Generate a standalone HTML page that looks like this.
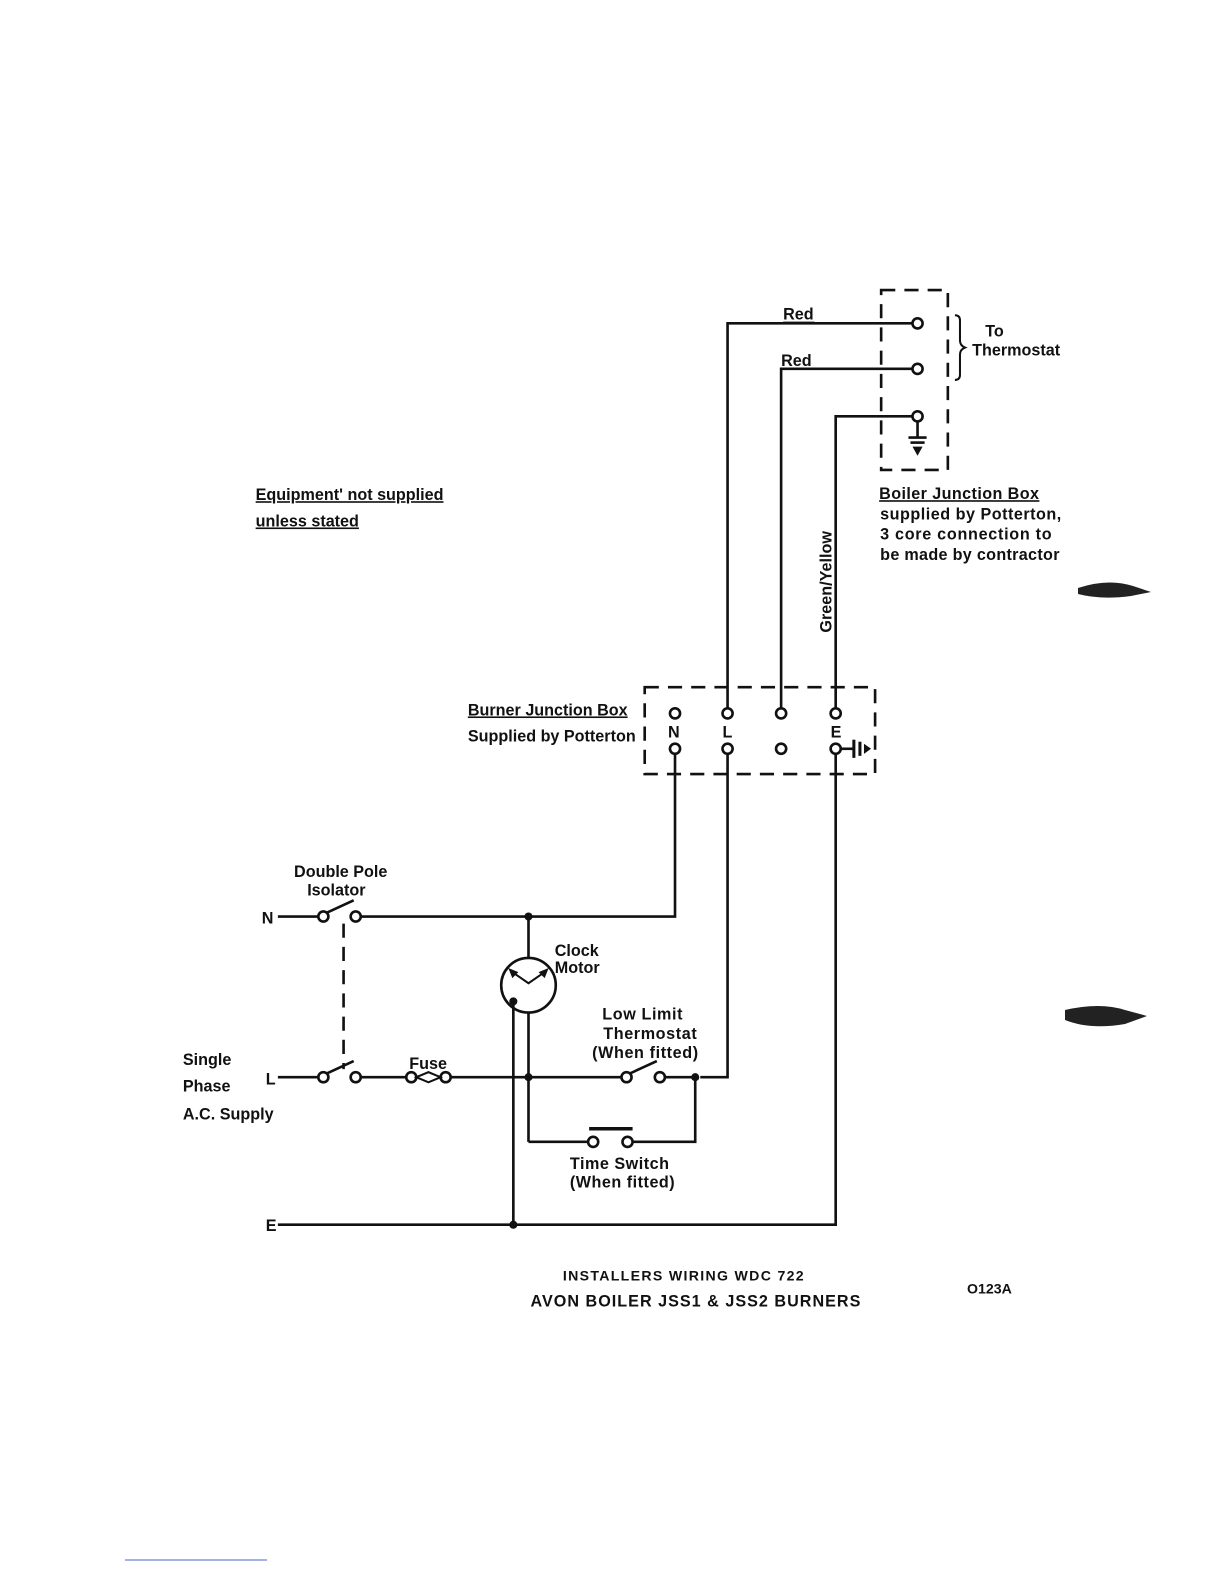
<!DOCTYPE html>
<html><head><meta charset="utf-8"><style>
html,body{margin:0;padding:0;background:#fff;}
svg{display:block;}
text{font-family:"Liberation Sans",sans-serif;font-weight:bold;fill:#111;}
</style></head><body>
<svg width="1224" height="1584" viewBox="0 0 1224 1584" xmlns="http://www.w3.org/2000/svg">
<rect width="1224" height="1584" fill="#fff"/>
<g transform="scale(1.0105)" stroke="#111" stroke-width="2.6" fill="none">
<rect x="872" y="287" width="66" height="178" stroke-dasharray="14,9"/>
<polyline points="903,320 720,320 720,701"/>
<polyline points="903,365 773,365 773,701"/>
<polyline points="903,412 827,412 827,701"/>
<circle cx="908" cy="320" r="5" fill="#fff"/>
<circle cx="908" cy="365" r="5" fill="#fff"/>
<circle cx="908" cy="412" r="5" fill="#fff"/>
<line x1="908" y1="417" x2="908" y2="432"/>
<line x1="899" y1="433" x2="917" y2="433"/>
<line x1="901" y1="438" x2="915" y2="438"/>
<polygon points="903,442 913,442 908,451" fill="#111" stroke="none"/>
<path d="M945,312 q5,0 5,5 v20 q0,5 5,7 q-5,2 -5,7 v20 q0,5 -5,5" stroke-width="2"/>
<rect x="638" y="680" width="228" height="86" stroke-dasharray="14,9"/>
<g fill="#fff">
<circle cx="668" cy="706" r="5"/><circle cx="720" cy="706" r="5"/><circle cx="773" cy="706" r="5"/><circle cx="827" cy="706" r="5"/>
<circle cx="668" cy="741" r="5"/><circle cx="720" cy="741" r="5"/><circle cx="773" cy="741" r="5"/><circle cx="827" cy="741" r="5"/>
</g>
<line x1="832" y1="741" x2="845" y2="741"/>
<line x1="845" y1="732" x2="845" y2="750" stroke-width="3"/>
<line x1="851" y1="734" x2="851" y2="748" stroke-width="3"/>
<polygon points="855,736 862,741 855,746" fill="#111" stroke="none"/>
<polyline points="668,746 668,907 357,907"/>
<line x1="275" y1="907" x2="315" y2="907"/>
<circle cx="320" cy="907" r="5" fill="#fff"/>
<line x1="324" y1="903" x2="350" y2="891"/>
<circle cx="352" cy="907" r="5" fill="#fff"/>
<line x1="340" y1="914" x2="340" y2="1058" stroke-dasharray="14,9"/>
<polyline points="720,746 720,1066 693,1066"/>
<line x1="275" y1="1066" x2="315" y2="1066"/>
<circle cx="320" cy="1066" r="5" fill="#fff"/>
<line x1="324" y1="1062" x2="350" y2="1050"/>
<circle cx="352" cy="1066" r="5" fill="#fff"/>
<line x1="357" y1="1066" x2="402" y2="1066"/>
<circle cx="407" cy="1066" r="5" fill="#fff"/>
<circle cx="441" cy="1066" r="5" fill="#fff"/>
<path d="M412,1066 L424,1061 L436,1066 L424,1071 Z" stroke-width="2"/>
<line x1="446" y1="1066" x2="615" y2="1066"/>
<circle cx="620" cy="1066" r="5" fill="#fff"/>
<line x1="624" y1="1062" x2="650" y2="1050"/>
<circle cx="653" cy="1066" r="5" fill="#fff"/>
<line x1="658" y1="1066" x2="690" y2="1066"/>
<line x1="523" y1="907" x2="523" y2="948"/>
<circle cx="523" cy="975" r="27" fill="#fff"/>
<polyline points="507,962 523,973 539,962" stroke-width="2"/>
<polygon points="503,958 513,962 507,968" fill="#111" stroke="none"/>
<polygon points="543,958 533,962 539,968" fill="#111" stroke="none"/>
<line x1="523" y1="1002" x2="523" y2="1130"/>
<polyline points="508,991 508,1212"/>
<polyline points="523,1130 582,1130"/>
<circle cx="587" cy="1130" r="5" fill="#fff"/>
<circle cx="621" cy="1130" r="5" fill="#fff"/>
<line x1="583" y1="1117" x2="626" y2="1117" stroke-width="3.5"/>
<polyline points="626,1130 688,1130 688,1066"/>
<polyline points="827,746 827,1212 275,1212"/>
<g fill="#111" stroke="none">
<circle cx="523" cy="907" r="4"/><circle cx="523" cy="1066" r="4"/><circle cx="688" cy="1066" r="4"/>
<circle cx="508" cy="991" r="4"/><circle cx="508" cy="1212" r="4"/>
</g>
</g>
<g transform="scale(1.0105)" font-size="16">
<text x="775" y="316">Red</text>
<line x1="775" y1="319" x2="806" y2="319" stroke="#111" stroke-width="1.5"/>
<text x="773" y="362">Red</text>
<text x="975" y="333">To</text>
<text x="962" y="352">Thermostat</text>
<text x="870" y="494" text-decoration="underline" letter-spacing="0.4">Boiler Junction Box</text>
<text x="871" y="514" letter-spacing="0.5">supplied by Potterton,</text>
<text x="871" y="534" letter-spacing="0.7">3 core connection to</text>
<text x="871" y="554" letter-spacing="0.3">be made by contractor</text>
<text transform="translate(823,626) rotate(-90)">Green/Yellow</text>
<text x="253" y="495" text-decoration="underline">Equipment' not supplied</text>
<text x="253" y="521" text-decoration="underline">unless stated</text>
<text x="463" y="708" text-decoration="underline">Burner Junction Box</text>
<text x="463" y="734">Supplied by Potterton</text>
<text x="661" y="730">N</text>
<text x="715" y="730">L</text>
<text x="822" y="730">E</text>
<text x="291" y="868">Double Pole</text>
<text x="304" y="886">Isolator</text>
<text x="259" y="914">N</text>
<text x="263" y="1073">L</text>
<text x="263" y="1218">E</text>
<text x="549" y="946">Clock</text>
<text x="549" y="963">Motor</text>
<text x="596" y="1009" letter-spacing="0.6">Low  Limit</text>
<text x="597" y="1028" letter-spacing="0.6">Thermostat</text>
<text x="586" y="1047" letter-spacing="0.6">(When fitted)</text>
<text x="405" y="1058">Fuse</text>
<text x="181" y="1054">Single</text>
<text x="181" y="1080">Phase</text>
<text x="181" y="1108">A.C. Supply</text>
<text x="564" y="1157" letter-spacing="0.5">Time Switch</text>
<text x="564" y="1175" letter-spacing="0.5">(When fitted)</text>
<text x="557" y="1267" font-size="14" letter-spacing="1.3">INSTALLERS WIRING WDC 722</text>
<text x="525" y="1293" letter-spacing="1">AVON BOILER JSS1 &amp; JSS2 BURNERS</text>
<text x="957" y="1280" font-size="14">O123A</text>
</g>
<path d="M1078,588 q30,-10 55,-2 l18,6 l-20,4 q-30,4 -53,-2z" fill="#222"/>
<path d="M1065,1010 q35,-8 60,0 l22,6 l-22,8 q-35,6 -60,-4z" fill="#222"/>
<line x1="125" y1="1560" x2="267" y2="1560" stroke="#4466cc" stroke-width="1"/>
</svg>
</body></html>
